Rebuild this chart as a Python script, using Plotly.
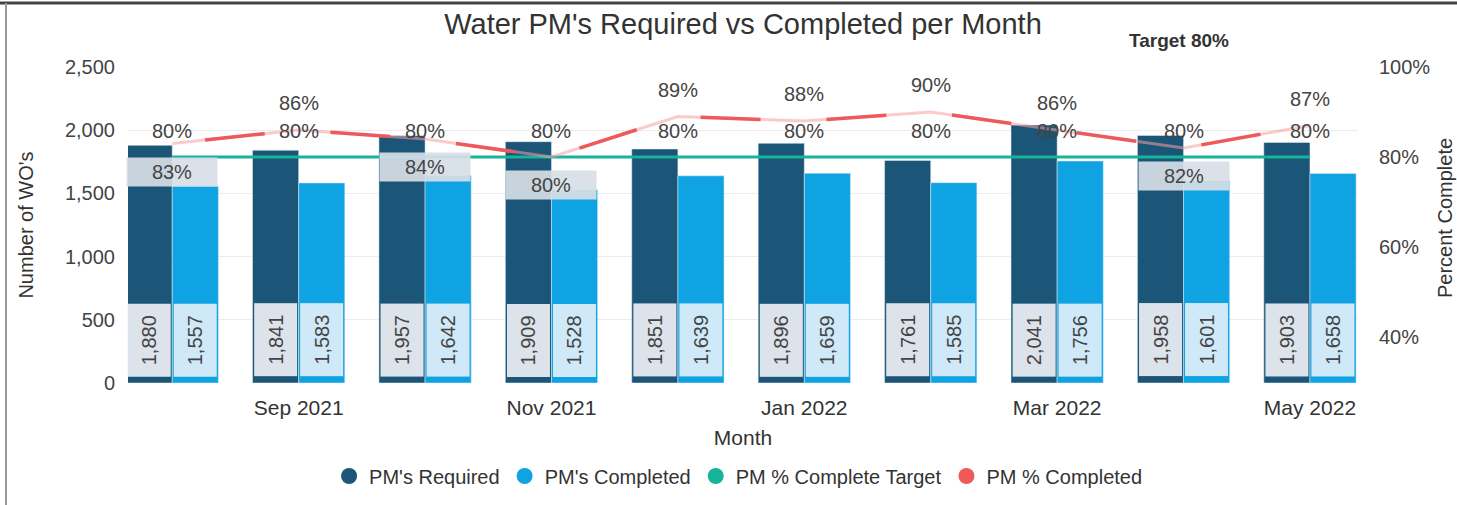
import plotly.graph_objects as go

months = ["Aug 2021", "Sep 2021", "Oct 2021", "Nov 2021", "Dec 2021",
          "Jan 2022", "Feb 2022", "Mar 2022", "Apr 2022", "May 2022"]
required = [1880, 1841, 1957, 1909, 1851, 1896, 1761, 2041, 1958, 1903]
completed = [1557, 1583, 1642, 1528, 1639, 1659, 1585, 1756, 1601, 1658]
pct_completed = [83, 86, 84, 80, 89, 88, 90, 86, 82, 87]
target = [80] * len(months)
tick_idx = [1, 3, 5, 7, 9]
pct_ticks = [40, 60, 80, 100]

C_REQ = "#1b5679"
C_COMP = "#0fa3e3"
C_TGT = "#17b49a"
C_PCT = "#ee5a5a"
FONT = "Liberation Sans, Arial, sans-serif"
TXT = "#444444"

x = list(range(len(months)))
fig = go.Figure()

fig.add_trace(go.Bar(x=x, y=required, name="PM's Required", marker_color=C_REQ,
                     showlegend=False, hoverinfo="skip"))
fig.add_trace(go.Bar(x=x, y=completed, name="PM's Completed", marker_color=C_COMP,
                     showlegend=False, hoverinfo="skip"))

fig.add_trace(go.Scatter(x=x, y=target, yaxis="y2", mode="lines",
                         line=dict(color=C_TGT, width=3), showlegend=False))
fig.add_trace(go.Scatter(x=x, y=pct_completed, yaxis="y2", mode="lines",
                         line=dict(color="rgba(245,160,160,0.55)", width=3),
                         showlegend=False))
fig.add_trace(go.Scatter(x=x, y=pct_completed, yaxis="y2", mode="lines",
                         line=dict(color=C_PCT, width=3.5, dash="0px,33px,60px,33px"),
                         showlegend=False))

for name, col in [("PM's Required", C_REQ), ("PM's Completed", C_COMP),
                  ("PM % Complete Target", C_TGT), ("PM % Completed", C_PCT)]:
    fig.add_trace(go.Scatter(x=[None], y=[None], mode="markers", name=name,
                             marker=dict(color=col, size=19, symbol="circle")))

LBL = 20
ann = []
for i in x:
    for val, shift, bg in [(required[i], -23, "#dde3ea"), (completed[i], 23, "#cfe9f8")]:
        ann.append(dict(x=i, y=340, xref="x", yref="y", xshift=shift,
                        text=f"{val:,}", textangle=-90, showarrow=False,
                        font=dict(family=FONT, size=LBL, color=TXT),
                        bgcolor=bg, width=70, height=40))
for i in x:
    ann.append(dict(x=i, y=target[i], xref="x", yref="y2", yshift=26,
                    text=f"{target[i]}%", showarrow=False,
                    font=dict(family=FONT, size=LBL, color=TXT)))
for i in x:
    p = pct_completed[i]
    if p - target[i] < 5:
        ann.append(dict(x=i, y=p, xref="x", yref="y2", yshift=-28,
                        text=f"{p}%", showarrow=False,
                        font=dict(family=FONT, size=LBL, color=TXT),
                        bgcolor="rgba(215,222,230,0.92)", width=88, height=26))
    else:
        ann.append(dict(x=i, y=p, xref="x", yref="y2", yshift=27,
                        text=f"{p}%", showarrow=False,
                        font=dict(family=FONT, size=LBL, color=TXT)))

L, R, T, B = 128, 99, 67, 122
W, H = 1457, 505
pw, ph = W - L - R, H - T - B

def px_x(p):
    return (p - L) / pw

def px_y(p):
    return (H - B - p) / ph

ann.append(dict(x=px_x(1179), y=px_y(40), xref="paper", yref="paper",
                xanchor="center", yanchor="middle", text="<b>Target 80%</b>",
                showarrow=False, font=dict(family=FONT, size=19, color="#333333")))
ann.append(dict(x=px_x(1445), y=px_y(218), xref="paper", yref="paper",
                xanchor="center", yanchor="middle", text="Percent Complete", textangle=-90,
                showarrow=False, font=dict(family=FONT, size=20, color="#333333")))

shapes = [
    dict(type="line", xref="paper", yref="paper", x0=px_x(0), x1=px_x(W), y0=px_y(3), y1=px_y(3),
         line=dict(color="#444444", width=3)),
    dict(type="line", xref="paper", yref="paper", x0=px_x(6), x1=px_x(6), y0=px_y(3), y1=px_y(H),
         line=dict(color="#999999", width=2)),
]

fig.update_layout(
    width=W, height=H,
    margin=dict(l=L, r=R, t=T, b=B, autoexpand=False),
    paper_bgcolor="white", plot_bgcolor="white",
    font=dict(family=FONT, size=20, color=TXT),
    barmode="group", bargap=0.27, bargroupgap=0,
    title=dict(text="Water PM's Required vs Completed per Month", x=0.5, xref="paper",
               y=1 - 24 / H, yanchor="middle",
               font=dict(family=FONT, size=29, color="#333333")),
    xaxis=dict(range=[-0.35, 9.38], tickvals=tick_idx, automargin=False,
               ticktext=[months[i] for i in tick_idx], showgrid=False, zeroline=False,
               showline=False, ticks="", ticklabelstandoff=10,
               tickfont=dict(size=21, color="#333333"),
               title=dict(text="Month", standoff=12, font=dict(size=21, color="#333333"))),
    yaxis=dict(range=[0, 2500], tickvals=[0, 500, 1000, 1500, 2000, 2500], automargin=False,
               tickformat=",d", showgrid=True, gridcolor="#ececec", zeroline=False,
               ticklabelstandoff=12, tickfont=dict(size=20, color=TXT),
               title=dict(text="Number of WO's", standoff=25, font=dict(size=20, color="#333333"))),
    yaxis2=dict(range=[29.8, 100], tickvals=pct_ticks, ticktext=[f"{v}%" for v in pct_ticks],
                overlaying="y", side="right", showgrid=False, zeroline=False, automargin=False,
                ticklabelstandoff=20, tickfont=dict(size=20, color=TXT)),
    legend=dict(orientation="h", x=0.496, xanchor="center", y=px_y(476), yanchor="middle",
                font=dict(size=20, color="#333333"), itemwidth=30, tracegroupgap=0),
    annotations=ann,
    shapes=shapes,
)

fig.write_html("out.html", config={"displayModeBar": False},
               post_script="document.body.style.margin='0';")
